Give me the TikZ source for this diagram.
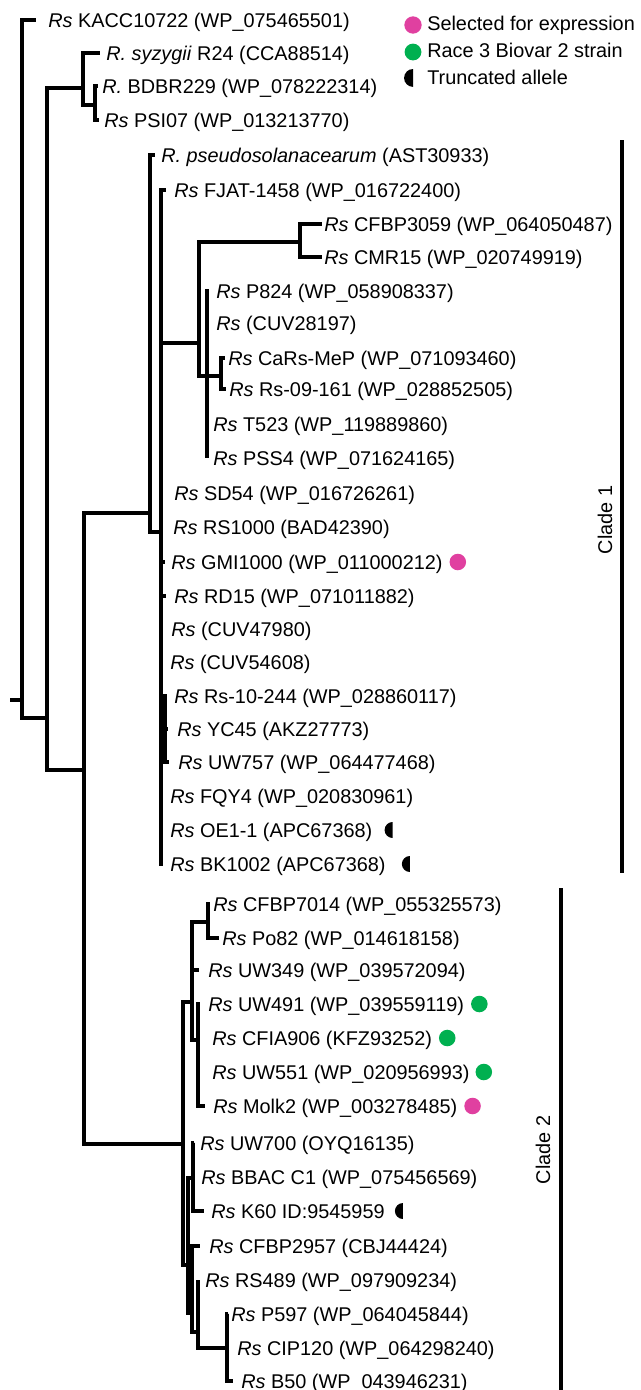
\documentclass[tikz,border=0pt]{standalone}
\usepackage{fontspec}
\setmainfont{Liberation Sans}
\definecolor{pinkc}{HTML}{E040A0}
\definecolor{greenc}{HTML}{00B050}
\begin{document}
\begin{tikzpicture}[x=0.75pt,y=-0.75pt,
  br/.style={line width=2.3pt},
  cladebar/.style={line width=3.4pt},
  lf/.style={anchor=base west, inner sep=0pt, yshift=-5.25pt, font=\fontsize{14.9pt}{18pt}\selectfont},
  lbl/.style={inner sep=0pt, font=\fontsize{14.9pt}{18pt}\selectfont},
  pdot/.style={fill=pinkc},
  gdot/.style={fill=greenc}]
\useasboundingbox (0,0) rectangle (641,1390);

% ---------- internal nodes ----------
\coordinate (r0) at (10,700);
\coordinate (nA) at (22,700);
\coordinate (nB) at (47,718);
\coordinate (nC) at (83,88);
\coordinate (nCc) at (95,105);
\coordinate (nD) at (84,770);
\coordinate (nE) at (150,513);
\coordinate (nF) at (161,532);
\coordinate (nF2) at (165,729);
\coordinate (nG) at (199,343);
\coordinate (nH) at (300,242);
\coordinate (nI) at (207,376);
\coordinate (nJ) at (221,376);
\coordinate (nK) at (183,1144);
\coordinate (nL) at (192,1002);
\coordinate (nM) at (208,922);
\coordinate (nN) at (198,1040);
\coordinate (nP) at (188,1265);
\coordinate (nQ) at (193,1178);
\coordinate (nS) at (192,1313);
\coordinate (nT) at (198,1332);
\coordinate (nU) at (227,1348);

% ---------- tips ----------
\coordinate (t1) at (36,20);
\coordinate (t2) at (100,53);
\coordinate (t3) at (98,86);
\coordinate (t4) at (99,120);
\coordinate (t5) at (155,155);
\coordinate (t6) at (166,190);
\coordinate (t7) at (322,224);
\coordinate (t8) at (322,257);
\coordinate (t9) at (209,291);
\coordinate (t10) at (207,323);
\coordinate (t11) at (225,358);
\coordinate (t12) at (226,389);
\coordinate (t13) at (207,424);
\coordinate (t14) at (207,458);
\coordinate (t15) at (163,493);
\coordinate (t16) at (163,527);
\coordinate (t17) at (165,562);
\coordinate (t18) at (166,596);
\coordinate (t19) at (163,629);
\coordinate (t20) at (163,662);
\coordinate (t21) at (167,696);
\coordinate (t22) at (168,729);
\coordinate (t23) at (169,762);
\coordinate (t24) at (163,796);
\coordinate (t25) at (163,830);
\coordinate (t26) at (163,864);
\coordinate (t27) at (210,904);
\coordinate (t28) at (219,938);
\coordinate (t29) at (199,970);
\coordinate (t30) at (200,1004);
\coordinate (t31) at (199,1038);
\coordinate (t32) at (199,1072);
\coordinate (t33) at (205,1106);
\coordinate (t34) at (194,1143);
\coordinate (t35) at (194,1177);
\coordinate (t36) at (204,1211);
\coordinate (t37) at (200,1246);
\coordinate (t38) at (198,1280);
\coordinate (t39) at (228,1314);
\coordinate (t40) at (228,1348);
\coordinate (t41) at (233,1381);

% ---------- branches ----------
\draw[br] (r0) -- (nA);
\draw[br] (nA) |- (t1);
\draw[br] (nA) |- (nB);
\draw[br] (nB) |- (nC);
\draw[br] (nB) |- (nD);
\draw[br] (nC) |- (t2);
\draw[br] (nC) |- (nCc);
\draw[br] (nCc) |- (t3);
\draw[br] (nCc) |- (t4);
\draw[br] (nD) |- (nE);
\draw[br] (nD) |- (nK);
\draw[br] (nE) |- (t5);
\draw[br] (nE) |- (nF);
\draw[br] (nF) |- (t6);
\draw[br] (nF) |- (nG);
\foreach \t in {15,...,20,24,25,26} {\draw[br] (nF) |- (t\t);}
\draw[br] (nF) |- (nF2);
\foreach \t in {21,22,23} {\draw[br] (nF2) |- (t\t);}
\draw[br] (nG) |- (nH);
\draw[br] (nG) |- (nI);
\draw[br] (nH) |- (t7);
\draw[br] (nH) |- (t8);
\draw[br] (nI) |- (t9);
\draw[br] (nI) |- (t10);
\draw[br] (nI) |- (nJ);
\draw[br] (nI) |- (t13);
\draw[br] (nI) |- (t14);
\draw[br] (nJ) |- (t11);
\draw[br] (nJ) |- (t12);
\draw[br] (nK) |- (nL);
\draw[br] (nK) |- (nP);
\draw[br] (nL) |- (nM);
\draw[br] (nL) |- (t29);
\draw[br] (nL) |- (nN);
\draw[br] (nM) |- (t27);
\draw[br] (nM) |- (t28);
\foreach \t in {30,...,33} {\draw[br] (nN) |- (t\t);}
\draw[br] (nP) |- (nQ);
\draw[br] (nP) |- (nS);
\foreach \t in {34,35,36} {\draw[br] (nQ) |- (t\t);}
\draw[br] (nS) |- (t37);
\draw[br] (nS) |- (nT);
\draw[br] (nT) |- (t38);
\draw[br] (nT) |- (nU);
\foreach \t in {39,40,41} {\draw[br] (nU) |- (t\t);}

% ---------- leaf labels ----------
\node[lf] (l1) at (48,20) {\textit{Rs} KACC10722 (WP\_075465501)};
\node[lf] (l2) at (106,53) {\textit{R. syzygii} R24 (CCA88514)};
\node[lf] (l3) at (102,86) {\textit{R.} BDBR229 (WP\_078222314)};
\node[lf] (l4) at (104,120) {\textit{Rs} PSI07 (WP\_013213770)};
\node[lf] (l5) at (161,155) {\textit{R. pseudosolanacearum} (AST30933)};
\node[lf] (l6) at (174,190) {\textit{Rs} FJAT-1458 (WP\_016722400)};
\node[lf] (l7) at (324,224) {\textit{Rs} CFBP3059 (WP\_064050487)};
\node[lf] (l8) at (324,257) {\textit{Rs} CMR15 (WP\_020749919)};
\node[lf] (l9) at (216,291) {\textit{Rs} P824 (WP\_058908337)};
\node[lf] (l10) at (216,323) {\textit{Rs} (CUV28197)};
\node[lf] (l11) at (228,358) {\textit{Rs} CaRs-MeP (WP\_071093460)};
\node[lf] (l12) at (229,389) {\textit{Rs} Rs-09-161 (WP\_028852505)};
\node[lf] (l13) at (213,424) {\textit{Rs} T523 (WP\_119889860)};
\node[lf] (l14) at (213,458) {\textit{Rs} PSS4 (WP\_071624165)};
\node[lf] (l15) at (174,493) {\textit{Rs} SD54 (WP\_016726261)};
\node[lf] (l16) at (173,527) {\textit{Rs} RS1000 (BAD42390)};
\node[lf] (l17) at (171,562) {\textit{Rs} GMI1000 (WP\_011000212)};
\node[lf] (l18) at (174,596) {\textit{Rs} RD15 (WP\_071011882)};
\node[lf] (l19) at (171,629) {\textit{Rs} (CUV47980)};
\node[lf] (l20) at (170,662) {\textit{Rs} (CUV54608)};
\node[lf] (l21) at (174,696) {\textit{Rs} Rs-10-244 (WP\_028860117)};
\node[lf] (l22) at (177,729) {\textit{Rs} YC45 (AKZ27773)};
\node[lf] (l23) at (178,762) {\textit{Rs} UW757 (WP\_064477468)};
\node[lf] (l24) at (170,796) {\textit{Rs} FQY4 (WP\_020830961)};
\node[lf] (l25) at (170,830) {\textit{Rs} OE1-1 (APC67368)};
\node[lf] (l26) at (170,864) {\textit{Rs} BK1002 (APC67368)};
\node[lf] (l27) at (213,904) {\textit{Rs} CFBP7014 (WP\_055325573)};
\node[lf] (l28) at (222,938) {\textit{Rs} Po82 (WP\_014618158)};
\node[lf] (l29) at (208,970) {\textit{Rs} UW349 (WP\_039572094)};
\node[lf] (l30) at (208,1004) {\textit{Rs} UW491 (WP\_039559119)};
\node[lf] (l31) at (212,1038) {\textit{Rs} CFIA906 (KFZ93252)};
\node[lf] (l32) at (212,1072) {\textit{Rs} UW551 (WP\_020956993)};
\node[lf] (l33) at (213,1106) {\textit{Rs} Molk2 (WP\_003278485)};
\node[lf] (l34) at (200,1143) {\textit{Rs} UW700 (OYQ16135)};
\node[lf] (l35) at (201,1177) {\textit{Rs} BBAC C1 (WP\_075456569)};
\node[lf] (l36) at (211,1211) {\textit{Rs} K60 ID:9545959};
\node[lf] (l37) at (209,1246) {\textit{Rs} CFBP2957 (CBJ44424)};
\node[lf] (l38) at (205,1280) {\textit{Rs} RS489 (WP\_097909234)};
\node[lf] (l39) at (231,1314) {\textit{Rs} P597 (WP\_064045844)};
\node[lf] (l40) at (237,1348) {\textit{Rs} CIP120 (WP\_064298240)};
\node[lf] (l41) at (241,1381) {\textit{Rs} B50 (WP\_043946231)};

% ---------- markers on leaves ----------
\fill[pdot] ([shift={(15,-7)}]l17.base east) circle[radius=6.2pt];
\fill[gdot] ([shift={(15,-7)}]l30.base east) circle[radius=6.2pt];
\fill[gdot] ([shift={(15,-7)}]l31.base east) circle[radius=6.2pt];
\fill[gdot] ([shift={(14,-7)}]l32.base east) circle[radius=6.2pt];
\fill[pdot] ([shift={(15,-7)}]l33.base east) circle[radius=6.2pt];
\fill ([shift={(20,-15)}]l25.base east) arc[start angle=90,end angle=270,radius=6pt] -- cycle;
\fill ([shift={(24,-15)}]l26.base east) arc[start angle=90,end angle=270,radius=6pt] -- cycle;
\fill ([shift={(18,-15)}]l36.base east) arc[start angle=90,end angle=270,radius=6pt] -- cycle;

% ---------- legend ----------
\coordinate (k1) at (413,25);
\coordinate (k2) at (413,52);
\coordinate (k3) at (413,78);
\fill[pdot] (k1) circle[radius=6.5pt];
\fill[gdot] (k2) circle[radius=6.3pt];
\fill (k3) ++(0,-9) arc[start angle=90,end angle=270,radius=6.7pt] -- cycle;
\node[lf] (g1) at (427,23) {Selected for expression};
\node[lf] (g2) at (427,50) {Race 3 Biovar 2 strain};
\node[lf] (g3) at (427,77) {Truncated allele};

% ---------- clade bars ----------
\coordinate (c1a) at (622,140);
\coordinate (c1b) at (622,873);
\coordinate (c2a) at (561,888);
\coordinate (c2b) at (561,1390);
\draw[cladebar] (c1a) -- (c1b);
\draw[cladebar] (c2a) -- (c2b);
\node[lbl, rotate=90] (cl1) at (605,520) {Clade 1};
\node[lbl, rotate=90] (cl2) at (543,1150) {Clade 2};
\end{tikzpicture}
\end{document}
